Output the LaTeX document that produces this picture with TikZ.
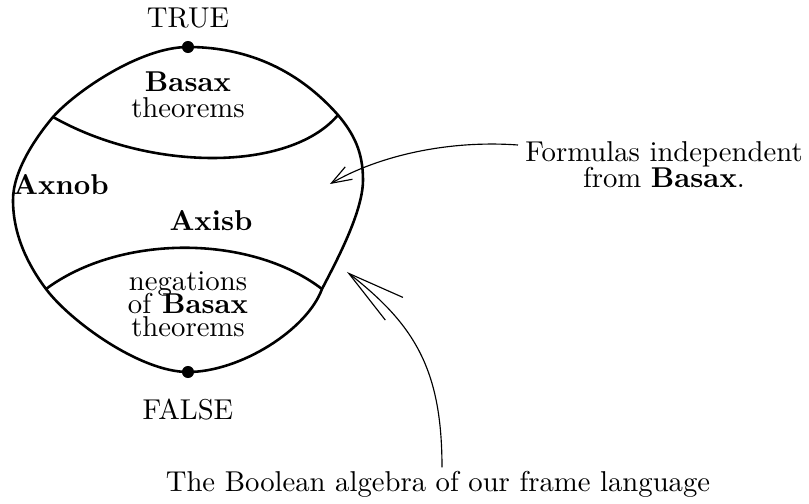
\documentclass[tikz,border=0pt]{standalone}
\usepackage{amsmath,amssymb}
\usepackage{tikz}
\usetikzlibrary{arrows.meta,calc}

\begin{document}
\begin{tikzpicture}[x=0.3484pt,y=-0.3484pt,
  blob/.style={line width=0.9pt},
  dot/.style={circle,fill,inner sep=0pt,minimum size=4.2pt},
  lbl/.style={align=center,inner sep=1pt},
  thinarr/.style={-{Straight Barb[length=7pt,width=5pt]},line width=0.4pt},
  bigarr/.style={-{Straight Barb[length=20pt,width=10pt]},line width=0.4pt}]
\useasboundingbox (0,0) rectangle (809,504);
% the algebra
\coordinate (top) at (188,47);
\coordinate (bot) at (188,372);
\coordinate (ul) at (53,117);
\coordinate (ur) at (338,115);
\coordinate (ll) at (46,289);
\coordinate (lr) at (322,289);
\coordinate (lft) at (13,200);
\coordinate (rgt) at (363,180);
\draw[blob] (top) .. controls (250,47) and (300,72) .. (ur)
  .. controls (354,134) and (363,152) .. (rgt)
  .. controls (363,212) and (336,262) .. (lr)
  .. controls (307,330) and (240,372) .. (bot)
  .. controls (140,372) and (70,321) .. (ll)
  .. controls (28,265) and (13,235) .. (lft)
  .. controls (13,170) and (37,136) .. (ul)
  .. controls (75,92) and (140,47) .. cycle;
\draw[blob] (ul) .. controls (150,172) and (290,172) .. (ur);
\draw[blob] (ll) .. controls (120,234) and (250,234) .. (lr);
\node[dot] (dTrue) at (top) {};
\node[dot] (dFalse) at (bot) {};
% labels
\node[lbl] (lTrue) at (188,18) {TRUE};
\node[lbl] (lFalse) at (188,410) {FALSE};
\node[lbl] (lBasax) at (188,95) {\textbf{Basax}\\[-3pt]theorems};
\node[lbl] (lAxnob) at (61,185) {\textbf{Axnob}};
\node[lbl] (lAxisb) at (211,221) {\textbf{Axisb}};
\node[lbl] (lNeg) at (188,304) {negations\\[-4pt]of \textbf{Basax}\\[-4pt]theorems};
\node[lbl] (lIndep) at (664,165) {Formulas independent\\[-3pt]from \textbf{Basax}.};
\node[lbl] (lBool) at (438,484) {The Boolean algebra of our frame language};
% arrows
\coordinate (indepIn) at (518,145);
\coordinate (midTip) at (330,184);
\coordinate (algTip) at (347,272);
\draw[thinarr] (indepIn) .. controls (450,140) and (380,155) .. (midTip);
\draw[bigarr] (lBool.north -| 442,0) .. controls (442,370) and (415,325) .. (algTip);
\end{tikzpicture}
\end{document}
